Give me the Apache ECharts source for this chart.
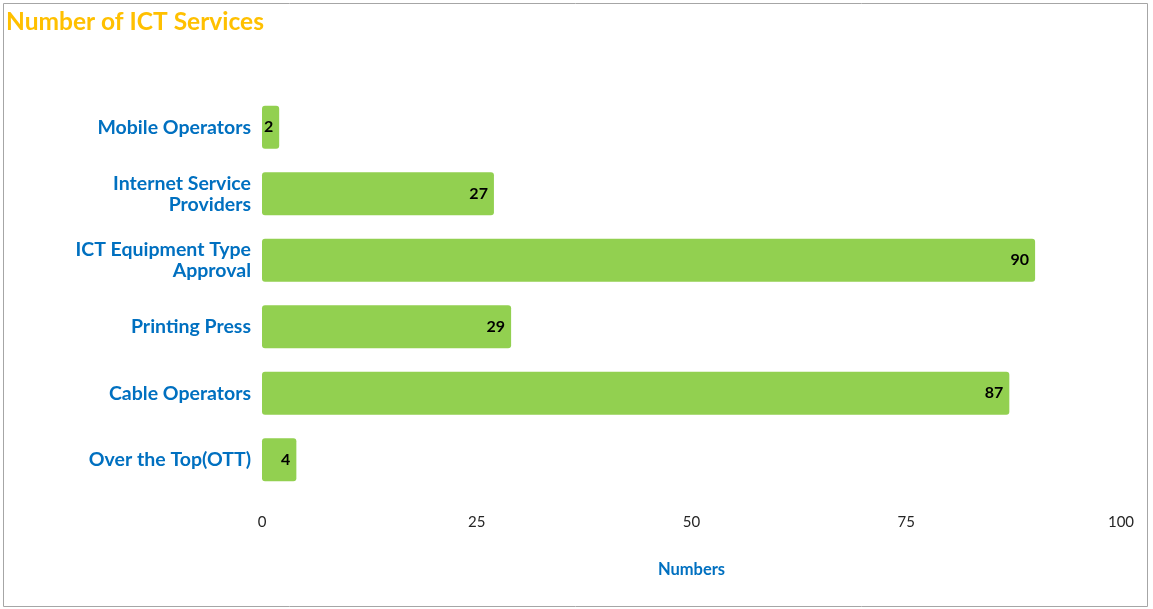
<!DOCTYPE html>
<html>
<head>
<meta charset="utf-8">
<script src="https://cdn.jsdelivr.net/npm/echarts@6/dist/echarts.min.js"></script>
<style>
  html, body { margin: 0; padding: 0; background: #fff; }
  #chart { width: 1153px; height: 609px; }
</style>
</head>
<body>
<div id="chart"></div>
<script>
var categories = ['Mobile Operators', 'Internet Service\nProviders', 'ICT Equipment Type\nApproval',
    'Printing Press', 'Cable Operators', 'Over the Top(OTT)'];
var counts = [2, 27, 90, 29, 87, 4];
var xTicks = [0, 25, 50, 75, 100];

var chart = echarts.init(document.getElementById('chart'));
var font = 'Lato, "Noto Sans", sans-serif';
var blue = '#0070C0';

chart.setOption({
    animation: false,
    backgroundColor: '#fff',
    textStyle: { fontFamily: font },
    title: {
        text: 'Number of ICT Services',
        left: 1,
        top: 5,
        textStyle: { color: '#FFC000', fontSize: 24.5, fontWeight: 'bold', fontFamily: font }
    },
    graphic: [{
        type: 'rect',
        shape: { x: 3.5, y: 3.5, width: 1144, height: 603 },
        style: { fill: null, stroke: '#a6a6a6', lineWidth: 1 },
        silent: true
    }],
    grid: { left: 262, right: 32, top: 94, bottom: 116, containLabel: false },
    xAxis: {
        type: 'value',
        min: xTicks[0],
        max: xTicks[xTicks.length - 1],
        interval: 25,
        name: 'Numbers',
        nameLocation: 'middle',
        nameGap: 68,
        nameTextStyle: { color: blue, fontWeight: 'bold', fontSize: 16.5, fontFamily: font },
        axisLine: { show: false },
        axisTick: { show: false },
        splitLine: { show: false },
        axisLabel: { color: '#262626', fontSize: 15, margin: 22, fontFamily: font }
    },
    yAxis: {
        type: 'category',
        data: categories,
        inverse: true,
        axisLine: { show: false },
        axisTick: { show: false },
        axisLabel: {
            color: blue, fontSize: 19.5, fontWeight: 'bold', margin: 11,
            lineHeight: 21, align: 'right', fontFamily: font
        }
    },
    series: [{
        type: 'bar',
        data: counts,
        barWidth: 43,
        itemStyle: { color: '#92D050', borderRadius: 3 },
        label: {
            show: true,
            position: 'insideRight',
            distance: 6,
            color: '#000',
            fontWeight: 'bold',
            fontSize: 16,
            fontFamily: font
        }
    }]
});
</script>
</body>
</html>
